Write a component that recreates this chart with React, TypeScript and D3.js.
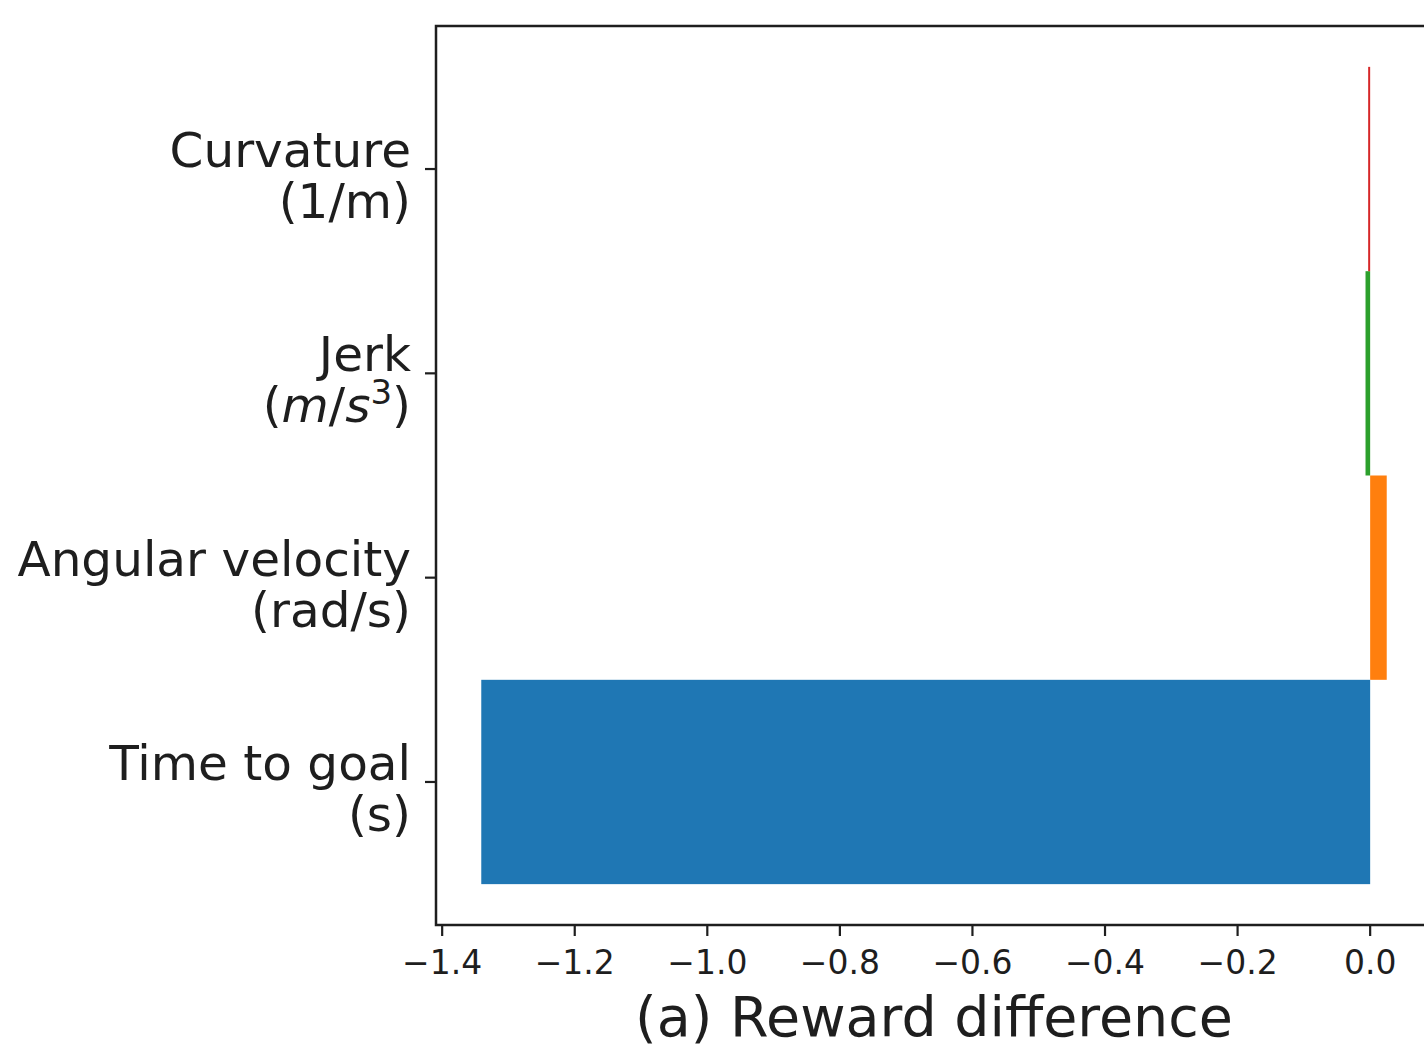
import React from "react";
import * as d3 from "d3";

// categories bottom-to-top, as in the source plot
const categories = ["Time to goal", "Angular velocity", "Jerk", "Curvature"];
const units = ["(s)", "(rad/s)", "jerk-unit", "(1/m)"];
const rewardDiff = [-1.341, 0.025, -0.007, -0.003];
const barColors = ["#1f77b4", "#ff7f0e", "#2ca02c", "#d62728"];
const xTicks = [-1.4, -1.2, -1.0, -0.8, -0.6, -0.4, -0.2, 0.0];
const xLabel = "(a) Reward difference";

const W = 1424;
const H = 1044;
const margin = { top: 26, right: -8, bottom: 119, left: 436 };
const font = "DejaVu Sans, sans-serif";
const ink = "#1e1e1e";

const App: React.FC = () => {
  const lo = d3.min(rewardDiff)!;
  const hi = d3.max(rewardDiff)!;
  const pad = (hi - lo) * 0.05;

  const x = d3
    .scaleLinear()
    .domain([lo - pad, hi + pad])
    .range([margin.left, W - margin.right]);

  const y = d3
    .scaleLinear()
    .domain([-0.7, categories.length - 1 + 0.7])
    .range([H - margin.bottom, margin.top]);

  const x0 = x(0);
  const fmt = (v: number) => (v < 0 ? "\u2212" : "") + Math.abs(v).toFixed(1);

  return (
    <svg
      width={W}
      height={H}
      style={{ position: "absolute", left: 0, top: 0, background: "#fff" }}
    >
      {rewardDiff.map((v, i) => (
        <rect
          key={categories[i]}
          x={Math.min(x(v), x0)}
          y={y(i + 0.5)}
          width={Math.max(Math.abs(x(v) - x0), 1.5)}
          height={y(i - 0.5) - y(i + 0.5)}
          fill={barColors[i]}
        />
      ))}

      {/* spines */}
      <rect
        x={x.range()[0]}
        y={y.range()[1]}
        width={x.range()[1] - x.range()[0]}
        height={y.range()[0] - y.range()[1]}
        fill="none"
        stroke={ink}
        strokeWidth={2.5}
      />

      {/* x ticks */}
      {xTicks.map((t) => (
        <g key={t} transform={`translate(${x(t)},${y.range()[0]})`}>
          <line y2={11} stroke={ink} strokeWidth={2.2} />
          <text
            y={49}
            textAnchor="middle"
            fontFamily={font}
            fontSize={33}
            fill={ink}
          >
            {fmt(t)}
          </text>
        </g>
      ))}

      <text
        x={(x.range()[0] + x.range()[1]) / 2}
        y={1036}
        textAnchor="middle"
        fontFamily={font}
        fontSize={55.5}
        fill={ink}
      >
        {xLabel}
      </text>

      {/* y ticks */}
      {categories.map((c, i) => (
        <g key={c} transform={`translate(${x.range()[0]},${y(i)})`}>
          <line x2={-11} stroke={ink} strokeWidth={2.2} />
          <text
            x={-25}
            y={-2}
            textAnchor="end"
            fontFamily={font}
            fontSize={48.5}
            fill={ink}
          >
            {c}
          </text>
          <text
            x={-25}
            y={49}
            textAnchor="end"
            fontFamily={font}
            fontSize={48.5}
            fill={ink}
          >
            {units[i] === "jerk-unit" ? (
              <>
                <tspan>(</tspan>
                <tspan fontStyle="italic">m</tspan>
                <tspan>/</tspan>
                <tspan fontStyle="italic">s</tspan>
                <tspan dy={-18} fontSize={34}>
                  3
                </tspan>
                <tspan dy={18}>)</tspan>
              </>
            ) : (
              units[i]
            )}
          </text>
        </g>
      ))}
    </svg>
  );
};

export default App;
